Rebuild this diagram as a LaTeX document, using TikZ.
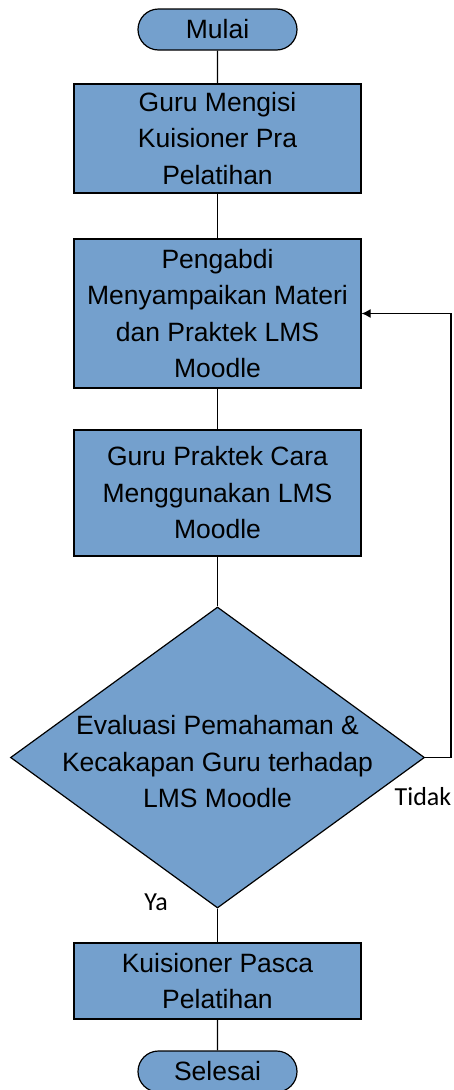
\documentclass[tikz,border=0pt]{standalone}
\usepackage{fontspec}
\setmainfont{Liberation Sans}
\newfontfamily\calibri{Carlito}
\usepackage{xcolor}
\usepackage{tikz}
\usetikzlibrary{shapes.geometric}
\usetikzlibrary{shapes.misc}
\usetikzlibrary{arrows.meta}
\definecolor{flowblue}{RGB}{116,160,205}

\begin{document}
\begin{tikzpicture}[
  x=1pt,y=-1pt,
  box/.style={draw,fill=flowblue,line width=1.2pt,minimum width=287pt,inner sep=0pt,align=center,
    font=\fontsize{26.5}{36.5}\selectfont},
  term/.style={draw,fill=flowblue,line width=1.2pt,rounded rectangle,minimum width=159pt,minimum height=41pt,
    inner sep=0pt,font=\fontsize{26.5}{36.5}\selectfont},
  cond/.style={draw,fill=flowblue,line width=1.2pt,diamond,minimum width=414pt,minimum height=301pt,inner sep=0pt},
  line/.style={line width=1.2pt},
  ptr/.style={line width=1.2pt,-{Latex[length=9pt,width=9pt]}},
  lbl/.style={font=\calibri\fontsize{26}{30}\selectfont,anchor=base}
]
\useasboundingbox (0,0) rectangle (453,1090);
% Start
\node[term] (mulai) at (217.5,29.5) {Mulai};
% Steps
\node[box,minimum height=109pt] (isi) at (217.5,138.5) {Guru Mengisi\\Kuisioner Pra\\Pelatihan};
\node[box,minimum height=149pt] (materi) at (217.5,313.5) {Pengabdi\\Menyampaikan Materi\\dan Praktek LMS\\Moodle};
\node[box,minimum height=126pt] (praktek) at (217.5,493) {Guru Praktek Cara\\Menggunakan LMS\\Moodle};
% Decision
\node[cond] (eval) at (217.5,757.5) {};
\node[align=center,font=\fontsize{26.5}{36.5}\selectfont] (evaltxt) at (217.5,762)
  {Evaluasi Pemahaman \&\\Kecakapan Guru terhadap\\LMS Moodle};
% End
\node[box,minimum height=76pt] (pasca) at (217.5,981) {Kuisioner Pasca\\Pelatihan};
\node[term] (selesai) at (217.5,1071.5) {Selesai};
% Labels
\node[lbl] (tidak) at (423,805) {Tidak};
\node[lbl] (ya) at (156,910) {Ya};
\coordinate (balik) at (451,757.5);

\draw[line] (mulai) -- (isi);
\draw[line] (isi) -- (materi);
\draw[line] (materi) -- (praktek);
\draw[line] (praktek) -- (eval);
\draw[line] (eval) -- (pasca);
\draw[line] (pasca) -- (selesai);
\draw[ptr] (eval.east) -- (balik) |- (materi.east);
\end{tikzpicture}
\end{document}
